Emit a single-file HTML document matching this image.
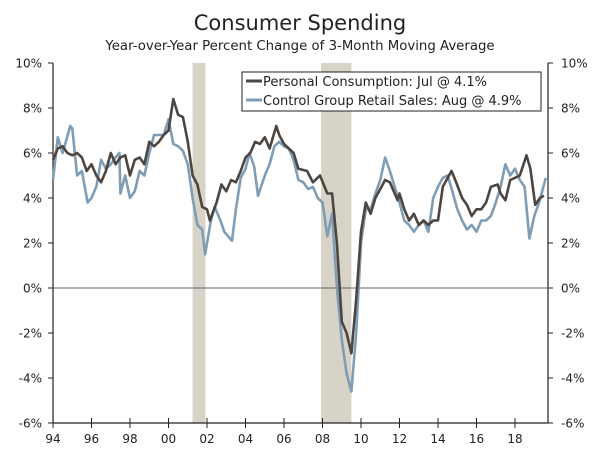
<!DOCTYPE html>
<html><head><meta charset="utf-8"><style>
body{margin:0;background:#fff;width:600px;height:453px;overflow:hidden;font-family:"DejaVu Sans","Liberation Sans",sans-serif;}
text{font-family:"DejaVu Sans","Liberation Sans",sans-serif;fill:#222;}
</style></head><body>
<svg id="chart" width="600" height="453" viewBox="0 0 600 453" xmlns="http://www.w3.org/2000/svg">
<text x="300" y="30" text-anchor="middle" font-size="21">Consumer Spending</text>
<text x="300" y="50" text-anchor="middle" font-size="13.3">Year-over-Year Percent Change of 3-Month Moving Average</text>
<g id="rec"></g>
<g id="axes"></g>
<g id="series"></g>
<g>
<rect x="242" y="72" width="299" height="39" fill="#fff" stroke="#222" stroke-width="1"/>
<line x1="246" y1="81" x2="262" y2="81" stroke="#4d4540" stroke-width="3"/>
<text x="263" y="86" font-size="13">Personal Consumption: Jul @ 4.1%</text>
<line x1="246" y1="100" x2="262" y2="100" stroke="#7f9db5" stroke-width="3"/>
<text x="263" y="105" font-size="13">Control Group Retail Sales: Aug @ 4.9%</text>
</g>
</svg>
<script>
const pceYears=[1994,1994.25,1994.5,1994.75,1995,1995.25,1995.5,1995.75,1996,1996.25,1996.5,1996.75,1997,1997.25,1997.5,1997.75,1998,1998.25,1998.5,1998.75,1999,1999.25,1999.5,1999.75,2000,2000.25,2000.5,2000.75,2001,2001.25,2001.5,2001.75,2002,2002.15,2002.5,2002.75,2003,2003.25,2003.5,2003.75,2004,2004.25,2004.5,2004.75,2005,2005.25,2005.6,2005.75,2006,2006.25,2006.5,2006.75,2007.2,2007.5,2007.87,2008.25,2008.5,2008.75,2009,2009.25,2009.5,2009.75,2010,2010.25,2010.5,2010.75,2011,2011.25,2011.5,2011.9,2012,2012.25,2012.5,2012.75,2013,2013.25,2013.5,2013.75,2014,2014.25,2014.7,2014.9,2015.25,2015.5,2015.75,2016,2016.25,2016.5,2016.75,2017.1,2017.25,2017.5,2017.75,2018,2018.25,2018.6,2018.8,2019.05,2019.3,2019.5];
const pceValues=[5.7,6.2,6.3,6.0,5.9,6.0,5.8,5.2,5.5,5.0,4.7,5.2,6.0,5.5,5.8,5.9,5.0,5.7,5.8,5.5,6.5,6.3,6.5,6.8,7.0,8.4,7.7,7.6,6.5,5.0,4.6,3.6,3.5,3.0,3.8,4.6,4.3,4.8,4.7,5.2,5.8,6.0,6.5,6.4,6.7,6.2,7.2,6.8,6.4,6.2,6.0,5.3,5.2,4.7,5.0,4.2,4.2,2.0,-1.5,-2.0,-2.9,-0.5,2.5,3.8,3.3,4.0,4.4,4.8,4.7,3.9,4.2,3.5,3.0,3.3,2.8,3.0,2.8,3.0,3.0,4.5,5.2,4.8,4.0,3.7,3.2,3.5,3.5,3.8,4.5,4.6,4.2,3.9,4.8,4.9,5.0,5.9,5.3,3.7,4.0,4.1];
const retailYears=[1994,1994.25,1994.5,1994.9,1995,1995.25,1995.5,1995.8,1996,1996.25,1996.5,1996.75,1997,1997.25,1997.45,1997.5,1997.75,1998,1998.25,1998.5,1998.75,1999,1999.25,1999.5,1999.75,2000,2000.25,2000.5,2000.75,2001,2001.25,2001.5,2001.75,2001.9,2002.2,2002.4,2002.7,2002.9,2003.3,2003.5,2003.75,2004,2004.2,2004.45,2004.65,2005,2005.25,2005.5,2005.75,2006,2006.25,2006.5,2006.75,2007,2007.25,2007.5,2007.75,2008,2008.25,2008.5,2008.75,2009,2009.25,2009.5,2009.75,2010,2010.25,2010.5,2010.75,2011,2011.25,2011.5,2011.75,2012,2012.25,2012.5,2012.75,2013,2013.25,2013.5,2013.75,2014,2014.25,2014.5,2014.75,2015,2015.25,2015.5,2015.75,2016,2016.25,2016.5,2016.75,2017,2017.25,2017.5,2017.75,2018,2018.25,2018.5,2018.75,2019,2019.25,2019.6];
const retailValues=[4.8,6.7,6.0,7.2,7.1,5.0,5.2,3.8,4.0,4.5,5.7,5.3,5.5,5.8,6.0,4.2,5.0,4.0,4.3,5.2,5.0,6.0,6.8,6.8,6.8,7.5,6.4,6.3,6.1,5.5,4.0,2.8,2.6,1.5,3.0,3.6,3.0,2.5,2.1,3.5,4.9,5.3,6.0,5.4,4.1,5.0,5.5,6.3,6.5,6.3,6.2,5.7,4.8,4.7,4.4,4.5,4.0,3.8,2.3,3.3,0.0,-2.3,-3.8,-4.6,-2.0,2.0,3.5,3.5,4.2,4.8,5.8,5.2,4.5,3.8,3.0,2.8,2.5,2.8,3.0,2.5,4.0,4.5,4.9,5.0,4.3,3.5,3.0,2.6,2.8,2.5,3.0,3.0,3.2,3.8,4.5,5.5,5.0,5.3,4.8,4.5,2.2,3.2,3.8,4.9];
const recessionStarts=[2001.25,2007.92];
const recessionEnds=[2001.92,2009.5];
const yTicks=[10,8,6,4,2,0,-2,-4,-6];
const xTickYears=[1994,1996,1998,2000,2002,2004,2006,2008,2010,2012,2014,2016,2018];
const xTickLabels=["94","96","98","00","02","04","06","08","10","12","14","16","18"];

const NS="http://www.w3.org/2000/svg";
const L=53,R=548,T=63,B=423;
const x=yr=>L+(yr-1994)*19.25;
const y=v=>T+(10-v)*(B-T)/16;
function mk(tag,attrs,parent){const e=document.createElementNS(NS,tag);for(const k in attrs)e.setAttribute(k,attrs[k]);parent.appendChild(e);return e;}
const rec=document.getElementById('rec'),axes=document.getElementById('axes'),ser=document.getElementById('series');
recessionStarts.forEach((s,i)=>{
 const r=mk('rect',{x:x(s),y:T,width:x(recessionEnds[i])-x(s),height:B-T,fill:'#d8d3c7'},rec);
 
 
});
let a=mk('line',{x1:L,y1:T,x2:L,y2:B,stroke:'#222','stroke-width':1.2},axes);


a=mk('line',{x1:R,y1:T,x2:R,y2:B,stroke:'#222','stroke-width':1.2},axes);


a=mk('line',{x1:L,y1:B,x2:R,y2:B,stroke:'#222','stroke-width':1.2},axes);


a=mk('line',{x1:L,y1:y(0),x2:R,y2:y(0),stroke:'#666','stroke-width':1},axes);


yTicks.forEach(v=>{
 mk('line',{x1:L-5,y1:y(v),x2:L,y2:y(v),stroke:'#222'},axes);
 mk('line',{x1:R,y1:y(v),x2:R+5,y2:y(v),stroke:'#222'},axes);
 const t1=mk('text',{x:L-11,y:y(v)+4.5,'text-anchor':'end','font-size':12},axes);t1.textContent=v+'%';
 
 
 const t2=mk('text',{x:R+13,y:y(v)+4.5,'text-anchor':'start','font-size':12},axes);t2.textContent=v+'%';
 
 
});
xTickYears.forEach((yr,i)=>{
 mk('line',{x1:x(yr),y1:B-5,x2:x(yr),y2:B+5,stroke:'#222'},axes);
 const t=mk('text',{x:x(yr),y:B+20,'text-anchor':'middle','font-size':12},axes);t.textContent=xTickLabels[i];
 
 
});
function line(xs,vs,color,name){
 const d=xs.map((yr,i)=>(i?'L':'M')+x(yr).toFixed(1)+','+y(vs[i]).toFixed(1)).join('');
 const p=mk('path',{d:d,fill:'none',stroke:color,'stroke-width':2.6,'stroke-linejoin':'round'},ser);
 
 
}
line(retailYears,retailValues,'#7f9db5','retail-sales-line');
line(pceYears,pceValues,'#4d4540','personal-consumption-line');
</script>
</body></html>
